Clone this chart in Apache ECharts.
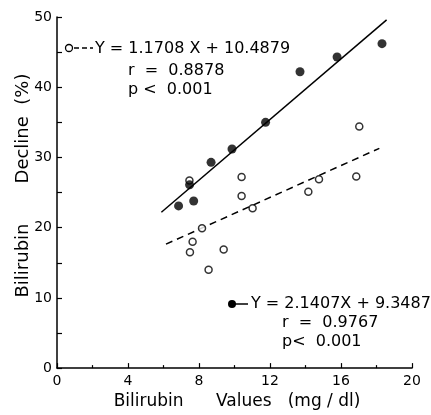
<!DOCTYPE html>
<html>
<head>
<meta charset="utf-8">
<script src="https://cdn.jsdelivr.net/npm/echarts@6/dist/echarts.min.js"></script>
<style>
html, body { margin: 0; padding: 0; background: #fff; }
#chart { width: 431px; height: 415px; }
</style>
</head>
<body>
<div id="chart"></div>
<script>
// 实心点 (●) 数据
const filledX = [6.85, 7.47, 7.70, 8.68, 9.86, 11.75, 13.69, 15.78, 18.31];
const filledY = [23.1, 26.1, 23.8, 29.3, 31.2, 35.0, 42.2, 44.3, 46.2];
// 空心点 (○) 数据
const openX = [7.46, 7.49, 7.64, 8.17, 8.54, 9.39, 10.40, 10.40, 11.02, 14.16, 14.76, 16.86, 17.03];
const openY = [26.7, 16.5, 18.0, 19.9, 14.0, 16.9, 27.2, 24.5, 22.75, 25.1, 26.9, 27.3, 34.4];
// 回归线端点
const solidLineX = [5.88, 18.57];
const solidLineY = [22.2, 49.6];
const dashedLineX = [6.14, 18.16];
const dashedLineY = [17.65, 31.3];
// 文本
const openEq = ['Y = 1.1708 X + 10.4879', 'r  =  0.8878', 'p <  0.001'];
const filledEq = ['Y = 2.1407X + 9.3487', 'r  =  0.9767', 'p<  0.001'];

const font = 'DejaVu Sans';
const zip = (xs, ys) => xs.map((x, i) => [x, ys[i]]);

const chart = echarts.init(document.getElementById('chart'));

const textStyle = (x, y, text) => ({
  type: 'text',
  style: { x: x, y: y, text: text, fill: '#000', font: '16px "DejaVu Sans"', textVerticalAlign: 'middle' },
  z: 10
});

const option = {
  animation: false,
  backgroundColor: '#fff',
  grid: { left: 57, right: 19, top: 17, bottom: 42 },
  xAxis: {
    type: 'value',
    min: 0,
    max: 20,
    interval: 4,
    name: 'Bilirubin      Values   (mg / dl)',
    nameLocation: 'middle',
    nameGap: 24,
    nameTextStyle: { fontFamily: font, fontSize: 17, color: '#000', padding: [0, 0, 0, 5] },
    axisLine: { lineStyle: { color: '#000', width: 1.5 } },
    axisTick: { inside: true, length: 5, lineStyle: { color: '#000', width: 1.2 } },
    minorTick: { show: true, splitNumber: 2, length: 3, lineStyle: { color: '#000', width: 1.2 } },
    axisLabel: { fontFamily: font, fontSize: 14, color: '#000', margin: 6 },
    splitLine: { show: false }
  },
  yAxis: {
    type: 'value',
    min: 0,
    max: 50,
    interval: 10,
    name: 'Bilirubin       Decline  (%)',
    nameLocation: 'middle',
    nameGap: 25,
    nameMoveOverlap: false,
    nameTextStyle: { fontFamily: font, fontSize: 18, color: '#000', padding: [0, 0, 0, 14] },
    axisLine: { lineStyle: { color: '#000', width: 1.5 } },
    axisTick: { inside: true, length: 5, lineStyle: { color: '#000', width: 1.2 } },
    minorTick: { show: true, splitNumber: 2, length: 5, lineStyle: { color: '#000', width: 1.2 } },
    axisLabel: { fontFamily: font, fontSize: 14, color: '#000', margin: 5 },
    splitLine: { show: false }
  },
  series: [
    {
      type: 'line',
      data: zip(solidLineX, solidLineY),
      symbol: 'none',
      lineStyle: { color: '#000', width: 1.5 },
      z: 1
    },
    {
      type: 'line',
      data: zip(dashedLineX, dashedLineY),
      symbol: 'none',
      lineStyle: { color: '#000', width: 1.5, type: [7, 5] },
      z: 1
    },
    {
      type: 'scatter',
      data: zip(openX, openY),
      symbol: 'circle',
      symbolSize: 7,
      itemStyle: { color: '#fff', borderColor: '#000', borderWidth: 1.5 },
      z: 3
    },
    {
      type: 'scatter',
      data: zip(filledX, filledY),
      symbol: 'circle',
      symbolSize: 9,
      itemStyle: { color: '#000' },
      z: 4
    }
  ],
  graphic: [
    // 空心点图例
    { type: 'circle', shape: { cx: 69, cy: 48, r: 3.5 }, style: { fill: '#fff', stroke: '#000', lineWidth: 1.3 }, z: 10 },
    { type: 'line', shape: { x1: 74, y1: 48, x2: 93, y2: 48 }, style: { stroke: '#000', lineWidth: 1.5, lineDash: [5, 3] }, z: 10 },
    textStyle(95, 49, openEq[0]),
    textStyle(128, 71, openEq[1]),
    textStyle(128, 90, openEq[2]),
    // 实心点图例
    { type: 'circle', shape: { cx: 232, cy: 304, r: 4 }, style: { fill: '#000' }, z: 10 },
    { type: 'line', shape: { x1: 235, y1: 304, x2: 248, y2: 304 }, style: { stroke: '#000', lineWidth: 1.5 }, z: 10 },
    textStyle(251, 304, filledEq[0]),
    textStyle(282, 323, filledEq[1]),
    textStyle(282, 342, filledEq[2])
  ]
};

chart.setOption(option);
</script>
</body>
</html>
